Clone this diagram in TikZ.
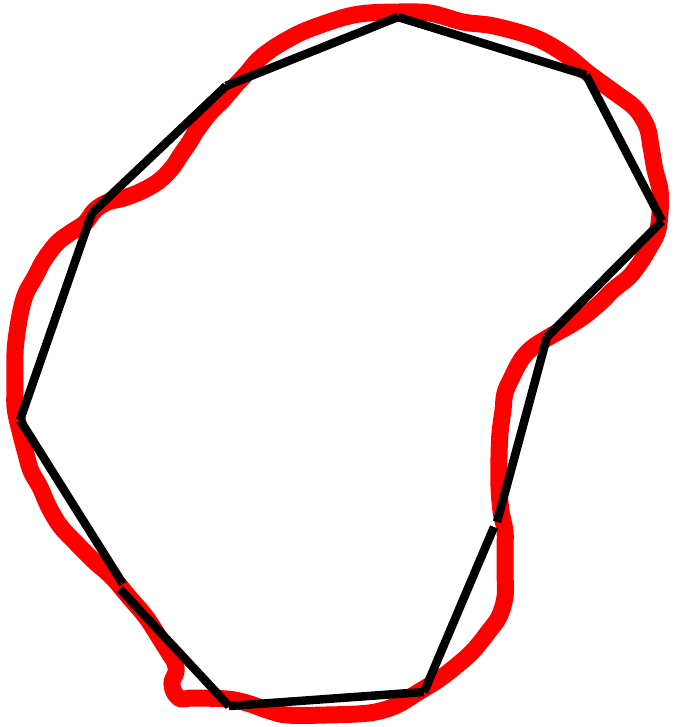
\documentclass[tikz,border=0pt]{standalone}
\usepackage{tikz}

\begin{document}
\begin{tikzpicture}[
  x=1pt, y=-1pt,
  outline/.style={draw=red, line width=17pt, line join=round, line cap=round},
  chord/.style={draw=black, line width=8.5pt, line cap=butt}
]
\useasboundingbox (0,0) rectangle (674,727);
% freehand outline
\draw[outline] plot[smooth cycle, tension=0.55] coordinates {
  (369,13) (400,12) (430,13) (463,22) (494,26) (536,38) (566,55) (588,73)
  (614,92) (635,108) (647,127) (651,147) (655,170) (660,190) (660,213)
  (657,233) (648,250) (640,263) (629,277) (613,290) (600,303) (583,317)
  (567,327) (549,337) (532,348) (521,360) (512,377) (505,393) (503,410)
  (500,433) (499,457) (499,487) (501,511) (505,531) (505,551) (505,571)
  (505,597) (499,617) (489,631) (479,644) (470,654) (455,667) (438,680)
  (417,693) (395,706) (369,713) (326,715) (287,715) (267,710) (247,703)
  (227,699) (193,698) (181,699) (174,692) (172,682) (176,672) (175,663)
  (169,653) (159,637) (146,617) (129,597) (112,577) (94,561) (77,544)
  (61,527) (52,513) (46,501) (40,487) (31,471) (26,454) (19,427) (15,407)
  (15,384) (15,353) (17,333) (21,310) (26,293) (35,277) (44,260) (57,243)
  (70,233) (85,223) (95,210) (108,202) (124,198) (142,191) (159,181)
  (172,168) (180,156) (189,143) (197,130) (210,113) (223,100) (234,87)
  (247,73) (258,60) (275,47) (300,33) (326,23) (349,16)
};
% polygon corners
\coordinate (v1) at (398,17);
\coordinate (v2) at (586,75);
\coordinate (v3) at (662,221);
\coordinate (v4) at (547,337);
\coordinate (v5a) at (497,522);
\coordinate (v5b) at (494,527);
\coordinate (v6) at (424,692);
\coordinate (v7) at (229,706);
\coordinate (v8a) at (123,584);
\coordinate (v8b) at (120,589);
\coordinate (v9) at (20,420);
\coordinate (v10) at (92,213);
\coordinate (v11) at (226,86);
% polygon sides
\foreach \a/\b in {v1/v2, v2/v3, v3/v4, v4/v5a, v5b/v6, v6/v7, v7/v8b,
                   v8a/v9, v9/v10, v10/v11, v11/v1}
  \draw[chord] (\a) -- (\b);
\end{tikzpicture}
\end{document}
